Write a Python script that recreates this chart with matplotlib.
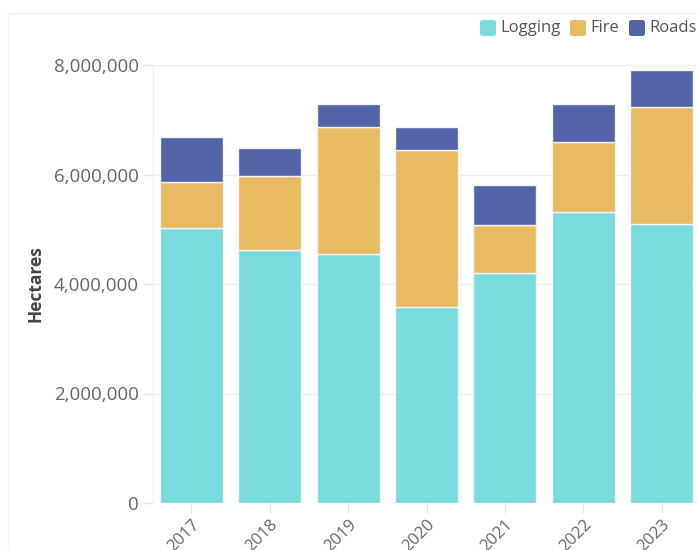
import matplotlib
matplotlib.use("Agg")
import matplotlib.pyplot as plt
from matplotlib.patches import FancyBboxPatch
from matplotlib.ticker import FuncFormatter
import numpy as np

years = ["2017", "2018", "2019", "2020", "2021", "2022", "2023"]
logging = [5030000, 4630000, 4550000, 3580000, 4210000, 5320000, 5100000]
fire = [830000, 1350000, 2310000, 2860000, 870000, 1270000, 2130000]
roads = [820000, 510000, 420000, 420000, 730000, 690000, 670000]
series_names = ["Logging", "Fire", "Roads"]
colors = ["#79dbdb", "#e8bb63", "#5263a8"]
y_ticks = [0, 2000000, 4000000, 6000000, 8000000]

plt.rcParams['font.family'] = ['Open Sans', 'DejaVu Sans']

W, H = 697, 550
fig = plt.figure(figsize=(W / 100, H / 100), dpi=100)
ax = fig.add_axes([153 / W, 1 - 503 / H, (700 - 153) / W, (503 - 65) / H])

x = np.arange(len(years))
bottom = np.zeros(len(years))
for name, vals, c in zip(series_names, [logging, fire, roads], colors):
    ax.bar(x, vals, bottom=bottom, width=0.805, color=c, edgecolor="#f4f4f8",
           linewidth=1.0, zorder=3, label=name)
    bottom += np.array(vals)

ax.set_xlim(-0.49, 6.49)
ax.set_ylim(0, 8000000)
ax.set_yticks(y_ticks)
ax.yaxis.set_major_formatter(FuncFormatter(lambda v, p: f"{int(v):,}"))
ax.set_xticks(x)
ax.set_xticklabels(years, rotation=45, ha="right", va="top", rotation_mode="anchor")

ax.grid(axis="y", color="#eeeeee", linewidth=1, zorder=0)
for s in ["top", "right", "bottom"]:
    ax.spines[s].set_visible(False)
ax.spines["left"].set_color("#eeeeee")
ax.tick_params(axis="y", colors="#e6e6e6", labelcolor="#666666", labelsize=13.5,
               length=7, width=1, pad=3)
ax.tick_params(axis="x", colors="#e6e6e6", labelcolor="#666666", labelsize=12,
               length=7, width=1, pad=3)
ax.set_ylabel("Hectares", fontsize=12.5, fontweight="bold", color="#444444", labelpad=7)

# card border lines
fig.add_artist(plt.Line2D([8 / W, 8 / W], [0, 1 - 13 / H], transform=fig.transFigure,
                          color="#f0f0f0", linewidth=1))
fig.add_artist(plt.Line2D([8 / W, 1], [1 - 13 / H, 1 - 13 / H], transform=fig.transFigure,
                          color="#f0f0f0", linewidth=1))

# legend
leg_x = [480, 570, 629]
for name, c, lx in zip(series_names, colors, leg_x):
    fig.add_artist(FancyBboxPatch((lx / W, 1 - 36 / H), 16 / W, 16 / H,
                                  boxstyle="round,pad=0,rounding_size=0.004",
                                  transform=fig.transFigure, facecolor=c,
                                  edgecolor="none"))
    fig.text((lx + 20) / W, 1 - 28 / H, name, fontsize=12, color="#555555",
             va="center", ha="left")

fig.savefig("out.png", dpi=100)
